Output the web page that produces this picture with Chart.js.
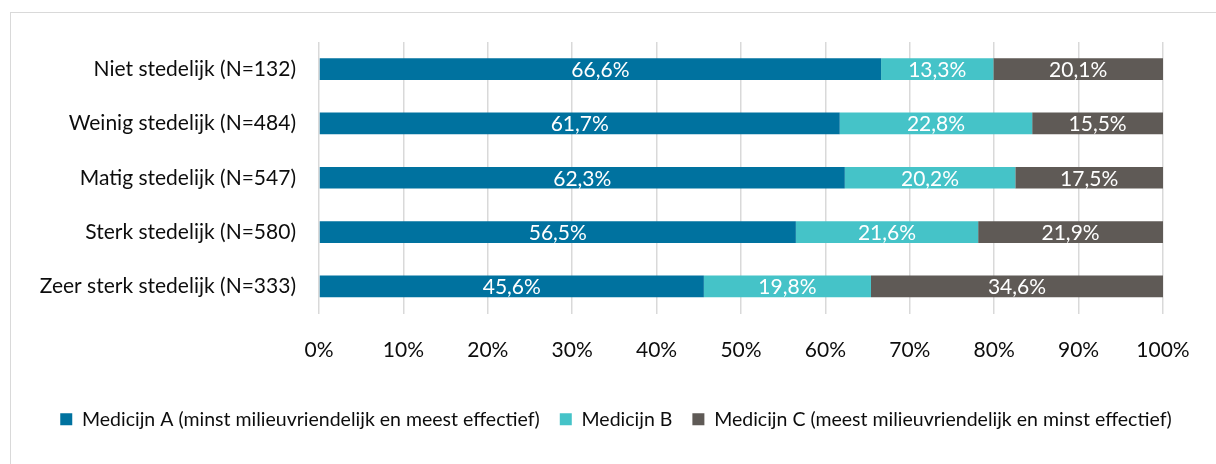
<!DOCTYPE html>
<html>
<head>
<meta charset="utf-8">
<script src="https://cdn.jsdelivr.net/npm/chart.js@4.4.1/dist/chart.umd.min.js"></script>
<style>
  html, body { margin: 0; padding: 0; background: #fff; overflow: hidden; }
  #wrap { position: relative; width: 1216px; height: 464px; }
  #frame { position: absolute; left: 10px; top: 12px; width: 1230px; height: 480px; border: 1.5px solid #d9d9d9; box-sizing: border-box; }
  #chart { position: absolute; left: 0; top: 0; }
</style>
</head>
<body>
<div id="wrap">
  <div id="frame"></div>
  <canvas id="chart" width="1216" height="464"></canvas>
</div>
<script>
// Categories (top to bottom)
const categories = [
    'Niet stedelijk (N=132)',
    'Weinig stedelijk (N=484)',
    'Matig stedelijk (N=547)',
    'Sterk stedelijk (N=580)',
    'Zeer sterk stedelijk (N=333)'
];

// Series values (percentages)
const medicijnA = [66.6, 61.7, 62.3, 56.5, 45.6];
const medicijnB = [13.3, 22.8, 20.2, 21.6, 19.8];
const medicijnC = [20.1, 15.5, 17.5, 21.9, 34.6];

const seriesNames = [
    'Medicijn A (minst milieuvriendelijk en meest effectief)',
    'Medicijn B',
    'Medicijn C (meest milieuvriendelijk en minst effectief)'
];

// Tick labels on x axis
const xTicks = ['0%', '10%', '20%', '30%', '40%', '50%', '60%', '70%', '80%', '90%', '100%'];

const colors = ['#00729f', '#45c3c8', '#5f5a56'];
const FONT = 'Lato, "Open Sans", sans-serif';

// Draw value labels in the middle of each bar segment
const valueLabels = {
    id: 'valueLabels',
    afterDatasetsDraw(chart) {
        const ctx = chart.ctx;
        ctx.save();
        ctx.fillStyle = '#ffffff';
        ctx.font = '21px ' + FONT;
        ctx.textAlign = 'center';
        ctx.textBaseline = 'middle';
        chart.data.datasets.forEach((ds, i) => {
            const meta = chart.getDatasetMeta(i);
            meta.data.forEach((bar, j) => {
                const x = (bar.x + bar.base) / 2;
                const txt = ds.data[j].toFixed(1).replace('.', ',') + '%';
                ctx.fillText(txt, x, bar.y + 1);
            });
        });
        ctx.restore();
    }
};

new Chart(document.getElementById('chart'), {
    type: 'bar',
    data: {
        labels: categories,
        datasets: [
            { label: seriesNames[0], data: medicijnA, backgroundColor: colors[0] },
            { label: seriesNames[1], data: medicijnB, backgroundColor: colors[1] },
            { label: seriesNames[2], data: medicijnC, backgroundColor: colors[2] }
        ]
    },
    options: {
        indexAxis: 'y',
        responsive: false,
        animation: false,
        layout: { padding: { top: 42, right: 0, bottom: 25, left: 16 } },
        datasets: {
            bar: { barPercentage: 0.8, categoryPercentage: 0.5, borderWidth: 0 }
        },
        scales: {
            x: {
                stacked: true,
                min: 0,
                max: 100,
                ticks: {
                    stepSize: 10,
                    padding: 24,
                    color: '#0d0d0d',
                    font: { family: FONT, size: 21 },
                    callback: (v, i) => xTicks[i]
                },
                grid: { color: '#d9d9d9', lineWidth: 1.5, drawTicks: false },
                border: { display: false },
                afterFit: (scale) => { scale.height = 76; }
            },
            y: {
                stacked: true,
                ticks: {
                    padding: 23,
                    color: '#0d0d0d',
                    font: { family: FONT, size: 21 }
                },
                grid: { display: false, drawTicks: false },
                border: { display: false },
                afterFit: (scale) => { scale.width = 303; }
            },
            // empty spacer on the right so the legend can use the full width
            spacer: {
                type: 'linear',
                position: 'right',
                grid: { display: false, drawTicks: false },
                border: { display: false },
                ticks: { display: false },
                afterFit: (scale) => { scale.width = 53; }
            }
        },
        plugins: {
            legend: {
                position: 'bottom',
                labels: {
                    boxWidth: 12,
                    boxHeight: 12,
                    padding: 20,
                    color: '#0d0d0d',
                    font: { family: FONT, size: 19.5 }
                }
            },
            tooltip: { enabled: false }
        }
    },
    plugins: [valueLabels]
});
</script>
</body>
</html>
